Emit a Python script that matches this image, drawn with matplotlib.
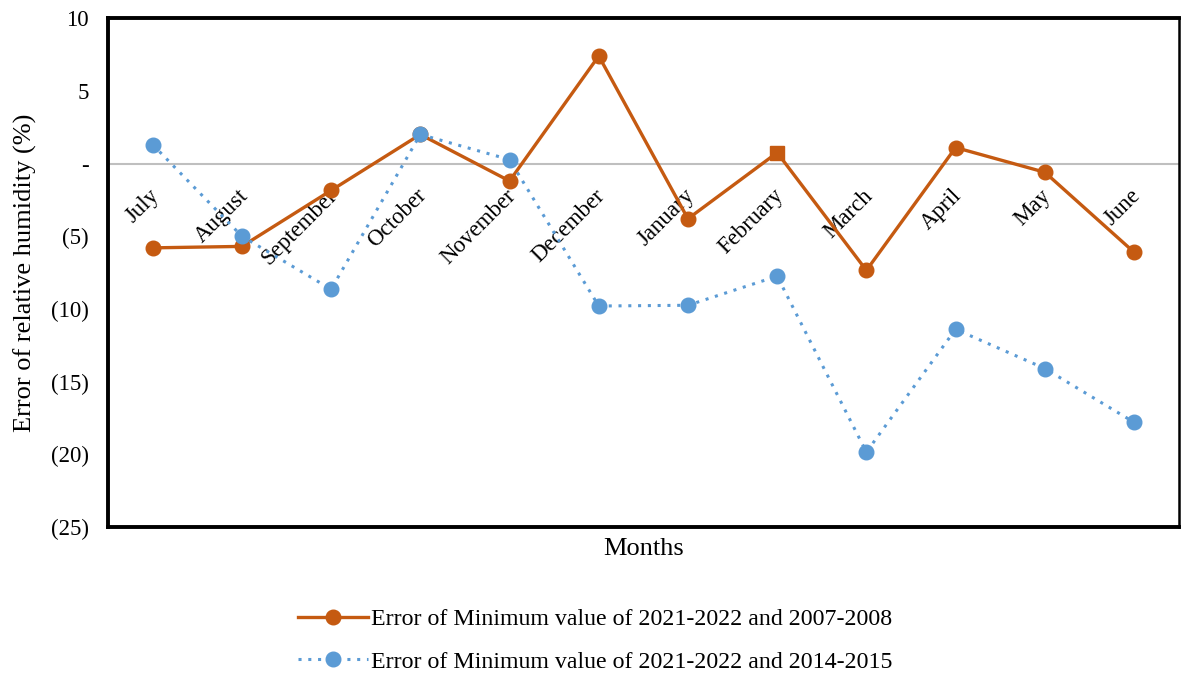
import matplotlib
matplotlib.use("Agg")
import matplotlib.pyplot as plt
from matplotlib.ticker import FuncFormatter, FixedLocator

months = ["July", "August", "September", "October", "November", "December",
          "January", "February", "March", "April", "May", "June"]
err_2007_2008 = [-5.8, -5.7, -1.85, 2.0, -1.2, 7.4, -3.8, 0.75, -7.35, 1.1, -0.6, -6.1]
err_2014_2015 = [1.3, -5.0, -8.65, 2.0, 0.27, -9.8, -9.75, -7.75, -19.85, -11.4, -14.1, -17.8]
label_2007 = "Error of Minimum value of 2021-2022 and 2007-2008"
label_2014 = "Error of Minimum value of 2021-2022 and 2014-2015"
square_month = "February"

orange = "#C55A11"
blue = "#5B9BD5"

plt.rcParams["font.family"] = ["Liberation Serif", "DejaVu Serif"]

fig = plt.figure(figsize=(11.81, 6.73), dpi=100)
ax = fig.add_axes([0.0915, 0.217, 0.9065, 0.756])

x = list(range(len(months)))
sq = months.index(square_month)
circle_idx = [i for i in x if i != sq]

ax.axhline(0, color="#BFBFBF", lw=1.5, zorder=1)

ax.plot(x, err_2007_2008, color=orange, lw=2.4, marker="o", ms=10.5,
        markevery=circle_idx, zorder=3, label=label_2007)
ax.plot([x[sq]], [err_2007_2008[sq]], color=orange, marker="s", ms=10,
        ls="none", zorder=3)
ax.plot(x, err_2014_2015, color=blue, lw=2.2, ls=(0, (1, 2.2)), marker="o",
        ms=10.5, zorder=4, label=label_2014)

ax.set_xlim(-0.5, len(months) - 0.5)
ax.set_ylim(-25, 10)
ax.yaxis.set_major_locator(FixedLocator([10, 5, 0, -5, -10, -15, -20, -25]))


def fmt(v, pos):
    if abs(v) < 1e-9:
        return "-"
    if v < 0:
        return f"({abs(v):.0f})"
    return f"{v:.0f}"


ax.yaxis.set_major_formatter(FuncFormatter(fmt))
ax.tick_params(axis="y", length=0, pad=14, labelsize=16.5)
ax.set_xticks([])

# category names sit just under the zero line, rotated 45 degrees
for i, m in enumerate(months):
    ax.annotate(m, xy=(i, 0), xytext=(7.5, -15.5), textcoords="offset points",
                rotation=45, ha="right", va="top",
                fontsize=16.5, zorder=2)

for s in ["left", "bottom", "top"]:
    ax.spines[s].set_linewidth(2.8)
    ax.spines[s].set_color("black")
ax.spines["right"].set_linewidth(1.8)

ax.set_ylabel("Error of relative humidity (%)", fontsize=19, labelpad=10)
ax.set_xlabel("Months", fontsize=19, labelpad=8)

leg = fig.legend(loc="center", bbox_to_anchor=(0.504, 0.048), ncol=1,
                 frameon=False, fontsize=17.2, handlelength=2.95,
                 labelspacing=0.86, handletextpad=0.12)

fig.savefig("out.png", dpi=100)
